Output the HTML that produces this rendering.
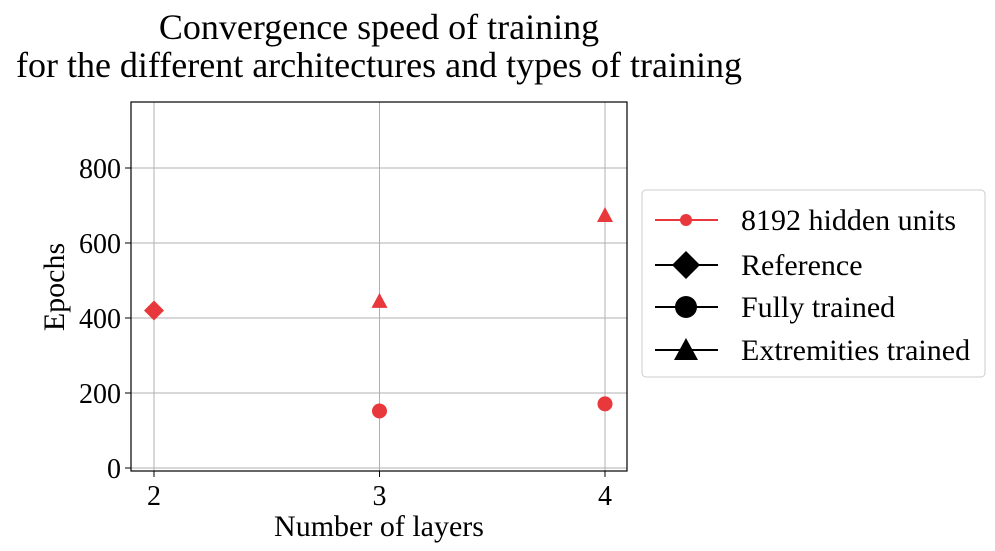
<!DOCTYPE html>
<html><head><meta charset="utf-8"><style>
body{margin:0;background:#fff;}
svg{display:block;font-family:"Liberation Serif",serif;}
</style></head><body>
<svg id="chart" width="995" height="551">
<text x="379" y="39" font-size="36" text-anchor="middle">Convergence speed of training</text>
<text x="379" y="77" font-size="36" text-anchor="middle">for the different architectures and types of training</text>
<g id="grid"></g>
<g id="ticks"></g>
<g id="marks"></g>
<rect x="131" y="102" width="496" height="369" fill="none" stroke="#000" stroke-width="1.2"/>
<text x="379" y="536" font-size="30" text-anchor="middle">Number of layers</text>
<text transform="translate(64,287) rotate(-90)" font-size="30" text-anchor="middle">Epochs</text>
<g>
<rect x="642" y="190" width="343" height="187" rx="4" fill="#fff" stroke="#ccc"/>
<g><line x1="655" y1="220" x2="718" y2="220" stroke="#e8383b" stroke-width="2"/><circle cx="686" cy="220" r="6" fill="#e8383b"/><text x="741" y="230" font-size="30">8192 hidden units</text></g>
<g><line x1="655" y1="265" x2="718" y2="265" stroke="#000" stroke-width="2"/><polygon points="686,251 700,265 686,279 672,265"/><text x="741" y="275" font-size="30">Reference</text></g>
<g><line x1="655" y1="307" x2="718" y2="307" stroke="#000" stroke-width="2"/><circle cx="686" cy="307" r="11"/><text x="741" y="317" font-size="30">Fully trained</text></g>
<g><line x1="655" y1="350" x2="718" y2="350" stroke="#000" stroke-width="2"/><polygon points="686,338 698,360 674,360"/><text x="741" y="360" font-size="30">Extremities trained</text></g>
</g>
</svg>
<script>
const xTicks=[2,3,4];
const yTicks=[0,200,400,600,800];
const refX=[2], refY=[420];
const fullX=[3,4], fullY=[152,171];
const extX=[3,4], extY=[443,672];
const NS="http://www.w3.org/2000/svg";
const sx=v=>154+(v-2)*225.5;
const sy=v=>468-v*0.375;
function mk(tag,attrs,parent){const e=document.createElementNS(NS,tag);for(const k in attrs)e.setAttribute(k,attrs[k]);document.getElementById(parent).appendChild(e);return e;}
xTicks.forEach(t=>{
 const g=mk('line',{x1:sx(t),x2:sx(t),y1:102,y2:471,stroke:'#b0b0b0','stroke-width':1},'grid');
 
 
 mk('line',{x1:sx(t),x2:sx(t),y1:471,y2:477,stroke:'#000'},'ticks');
 const tx=mk('text',{x:sx(t),y:505,'font-size':28,'text-anchor':'middle'},'ticks');tx.textContent=t;
 
 
});
yTicks.forEach(t=>{
 const g=mk('line',{x1:131,x2:627,y1:sy(t),y2:sy(t),stroke:'#b0b0b0','stroke-width':1},'grid');
 
 
 mk('line',{x1:125,x2:131,y1:sy(t),y2:sy(t),stroke:'#000'},'ticks');
 const tx=mk('text',{x:121,y:sy(t)+10,'font-size':28,'text-anchor':'end'},'ticks');tx.textContent=t;
 
 
});
const C='#e8383b';
refX.forEach((x,i)=>{const X=sx(x),Y=sy(refY[i]);
 const e=mk('polygon',{points:`${X},${Y-10} ${X+10},${Y} ${X},${Y+10} ${X-10},${Y}`,fill:C},'marks');
 
 });
fullX.forEach((x,i)=>{
 const e=mk('circle',{cx:sx(x),cy:sy(fullY[i]),r:7.5,fill:C},'marks');
 
 });
extX.forEach((x,i)=>{const X=sx(x),Y=sy(extY[i]);
 const e=mk('polygon',{points:`${X},${Y-9} ${X+8},${Y+6} ${X-8},${Y+6}`,fill:C},'marks');
 
 });
</script>
</body></html>
